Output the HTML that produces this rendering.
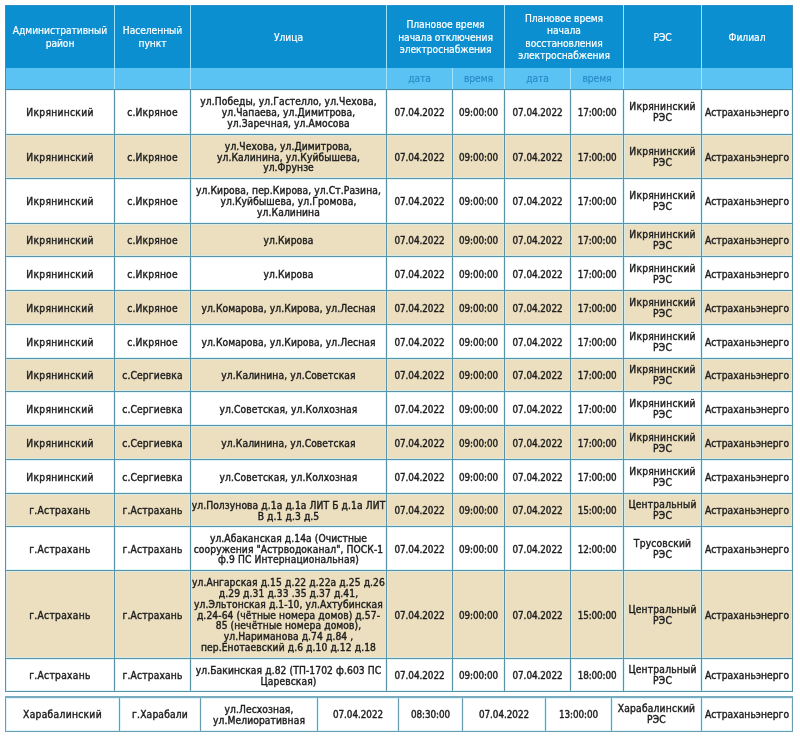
<!DOCTYPE html>
<html lang="ru"><head><meta charset="utf-8"><title>Плановые отключения электроснабжения</title>
<style>
html,body{margin:0;padding:0;background:#fff;}
body{width:800px;height:740px;overflow:hidden;position:relative;font-family:"Liberation Sans",sans-serif;}
table{border-collapse:collapse;table-layout:fixed;position:absolute;left:5px;}
.t1{top:5px;width:788px;}
th,td{white-space:nowrap;padding:0;text-align:center;vertical-align:middle;overflow:hidden;}
.t1 th{background:#0c8fd1;color:#fff;font-family:"DejaVu Sans Condensed","Liberation Sans",sans-serif;font-weight:400;font-size:10.2px;letter-spacing:-.05px;-webkit-text-stroke:.2px #fff;line-height:12.5px;border:1px solid #9fe2fa;}
.t1 tr.h1{height:62px;}
.t1 tr.h1 th{border-top-color:#2b93c9;border-bottom:0;padding-top:2px;}
.t1 tr.h2{height:22px;}
.t1 tr.h2 th{background:#5bc3f4;color:#2a8bc8;-webkit-text-stroke:.2px #2a8bc8;padding-top:2px;border-top:0;border-bottom:1px solid #4f8ea8;}
.t1 th:first-child{border-left-color:#3b8fb8;}
.t1 th:last-child{border-right-color:#3b8fb8;}
td{border:1px solid #5a93a8;box-shadow:inset 0 0 0 1px rgba(205,240,250,.65);color:#1e1e1e;font-family:"DejaVu Sans Condensed","Liberation Sans",sans-serif;font-weight:400;font-size:10.2px;line-height:10.8px;padding-top:3px;-webkit-text-stroke:.4px #1e1e1e;}
tr.odd td{background:#ecdfc0;}
.t2{top:696px;width:788px;}
.t2 tr{height:34px;}
.t2 td{border:1px solid #6a9db1;border-top:2px solid #79abc0;}
td.c1{letter-spacing:.3px;}
td.c2{letter-spacing:.17px;}
td.c3{letter-spacing:.1px;}
td.c4,td.c6{font-size:9.8px;letter-spacing:-.04px;}
td.c5,td.c7{font-size:9.8px;letter-spacing:-.1px;}
td.c8{letter-spacing:.2px;padding-top:2px;}
td.c9{letter-spacing:.05px;}
</style></head>
<body>
<table class="t1">
<colgroup><col style="width:109px"><col style="width:76px"><col style="width:196px"><col style="width:66px"><col style="width:52px"><col style="width:66px"><col style="width:53px"><col style="width:78px"><col style="width:91px"></colgroup>
<thead>
<tr class="h1"><th>Административный<br>район</th><th>Населенный<br>пункт</th><th>Улица</th><th colspan="2">Плановое время<br>начала отключения<br>электроснабжения</th><th colspan="2">Плановое время<br>начала<br>восстановления<br>электроснабжения</th><th>РЭС</th><th>Филиал</th></tr>
<tr class="h2"><th></th><th></th><th></th><th>дата</th><th>время</th><th>дата</th><th>время</th><th></th><th></th></tr>
</thead>
<tbody>
<tr class="even" style="height:45px"><td class="c1"><div>Икрянинский</div></td><td class="c2"><div>с.Икряное</div></td><td class="c3"><div>ул.Победы, ул.Гастелло, ул.Чехова,<br>ул.Чапаева, ул.Димитрова,<br>ул.Заречная, ул.Амосова</div></td><td class="c4"><div>07.04.2022</div></td><td class="c5"><div>09:00:00</div></td><td class="c6"><div>07.04.2022</div></td><td class="c7"><div>17:00:00</div></td><td class="c8"><div>Икрянинский<br>РЭС</div></td><td class="c9"><div>Астраханьэнерго</div></td></tr>
<tr class="odd" style="height:44px"><td class="c1"><div>Икрянинский</div></td><td class="c2"><div>с.Икряное</div></td><td class="c3"><div>ул.Чехова, ул.Димитрова,<br>ул.Калинина, ул.Куйбышева,<br>ул.Фрунзе</div></td><td class="c4"><div>07.04.2022</div></td><td class="c5"><div>09:00:00</div></td><td class="c6"><div>07.04.2022</div></td><td class="c7"><div>17:00:00</div></td><td class="c8"><div>Икрянинский<br>РЭС</div></td><td class="c9"><div>Астраханьэнерго</div></td></tr>
<tr class="even" style="height:45px"><td class="c1"><div>Икрянинский</div></td><td class="c2"><div>с.Икряное</div></td><td class="c3"><div>ул.Кирова, пер.Кирова, ул.Ст.Разина,<br>ул.Куйбышева, ул.Громова,<br>ул.Калинина</div></td><td class="c4"><div>07.04.2022</div></td><td class="c5"><div>09:00:00</div></td><td class="c6"><div>07.04.2022</div></td><td class="c7"><div>17:00:00</div></td><td class="c8"><div>Икрянинский<br>РЭС</div></td><td class="c9"><div>Астраханьэнерго</div></td></tr>
<tr class="odd" style="height:33px"><td class="c1"><div>Икрянинский</div></td><td class="c2"><div>с.Икряное</div></td><td class="c3"><div>ул.Кирова</div></td><td class="c4"><div>07.04.2022</div></td><td class="c5"><div>09:00:00</div></td><td class="c6"><div>07.04.2022</div></td><td class="c7"><div>17:00:00</div></td><td class="c8"><div>Икрянинский<br>РЭС</div></td><td class="c9"><div>Астраханьэнерго</div></td></tr>
<tr class="even" style="height:34px"><td class="c1"><div>Икрянинский</div></td><td class="c2"><div>с.Икряное</div></td><td class="c3"><div>ул.Кирова</div></td><td class="c4"><div>07.04.2022</div></td><td class="c5"><div>09:00:00</div></td><td class="c6"><div>07.04.2022</div></td><td class="c7"><div>17:00:00</div></td><td class="c8"><div>Икрянинский<br>РЭС</div></td><td class="c9"><div>Астраханьэнерго</div></td></tr>
<tr class="odd" style="height:34px"><td class="c1"><div>Икрянинский</div></td><td class="c2"><div>с.Икряное</div></td><td class="c3"><div>ул.Комарова, ул.Кирова, ул.Лесная</div></td><td class="c4"><div>07.04.2022</div></td><td class="c5"><div>09:00:00</div></td><td class="c6"><div>07.04.2022</div></td><td class="c7"><div>17:00:00</div></td><td class="c8"><div>Икрянинский<br>РЭС</div></td><td class="c9"><div>Астраханьэнерго</div></td></tr>
<tr class="even" style="height:34px"><td class="c1"><div>Икрянинский</div></td><td class="c2"><div>с.Икряное</div></td><td class="c3"><div>ул.Комарова, ул.Кирова, ул.Лесная</div></td><td class="c4"><div>07.04.2022</div></td><td class="c5"><div>09:00:00</div></td><td class="c6"><div>07.04.2022</div></td><td class="c7"><div>17:00:00</div></td><td class="c8"><div>Икрянинский<br>РЭС</div></td><td class="c9"><div>Астраханьэнерго</div></td></tr>
<tr class="odd" style="height:33px"><td class="c1"><div>Икрянинский</div></td><td class="c2"><div>с.Сергиевка</div></td><td class="c3"><div>ул.Калинина, ул.Советская</div></td><td class="c4"><div>07.04.2022</div></td><td class="c5"><div>09:00:00</div></td><td class="c6"><div>07.04.2022</div></td><td class="c7"><div>17:00:00</div></td><td class="c8"><div>Икрянинский<br>РЭС</div></td><td class="c9"><div>Астраханьэнерго</div></td></tr>
<tr class="even" style="height:34px"><td class="c1"><div>Икрянинский</div></td><td class="c2"><div>с.Сергиевка</div></td><td class="c3"><div>ул.Советская, ул.Колхозная</div></td><td class="c4"><div>07.04.2022</div></td><td class="c5"><div>09:00:00</div></td><td class="c6"><div>07.04.2022</div></td><td class="c7"><div>17:00:00</div></td><td class="c8"><div>Икрянинский<br>РЭС</div></td><td class="c9"><div>Астраханьэнерго</div></td></tr>
<tr class="odd" style="height:34px"><td class="c1"><div>Икрянинский</div></td><td class="c2"><div>с.Сергиевка</div></td><td class="c3"><div>ул.Калинина, ул.Советская</div></td><td class="c4"><div>07.04.2022</div></td><td class="c5"><div>09:00:00</div></td><td class="c6"><div>07.04.2022</div></td><td class="c7"><div>17:00:00</div></td><td class="c8"><div>Икрянинский<br>РЭС</div></td><td class="c9"><div>Астраханьэнерго</div></td></tr>
<tr class="even" style="height:34px"><td class="c1"><div>Икрянинский</div></td><td class="c2"><div>с.Сергиевка</div></td><td class="c3"><div>ул.Советская, ул.Колхозная</div></td><td class="c4"><div>07.04.2022</div></td><td class="c5"><div>09:00:00</div></td><td class="c6"><div>07.04.2022</div></td><td class="c7"><div>17:00:00</div></td><td class="c8"><div>Икрянинский<br>РЭС</div></td><td class="c9"><div>Астраханьэнерго</div></td></tr>
<tr class="odd" style="height:33px"><td class="c1"><div>г.Астрахань</div></td><td class="c2"><div>г.Астрахань</div></td><td class="c3"><div>ул.Ползунова д.1а д.1а ЛИТ Б д.1а ЛИТ<br>В д.1 д.3 д.5</div></td><td class="c4"><div>07.04.2022</div></td><td class="c5"><div>09:00:00</div></td><td class="c6"><div>07.04.2022</div></td><td class="c7"><div>15:00:00</div></td><td class="c8"><div>Центральный<br>РЭС</div></td><td class="c9"><div>Астраханьэнерго</div></td></tr>
<tr class="even" style="height:44px"><td class="c1"><div>г.Астрахань</div></td><td class="c2"><div>г.Астрахань</div></td><td class="c3"><div>ул.Абаканская д.14а (Очистные<br>сооружения "Астрводоканал", ПОСК-1<br>ф.9 ПС Интернациональная)</div></td><td class="c4"><div>07.04.2022</div></td><td class="c5"><div>09:00:00</div></td><td class="c6"><div>07.04.2022</div></td><td class="c7"><div>12:00:00</div></td><td class="c8"><div>Трусовский<br>РЭС</div></td><td class="c9"><div>Астраханьэнерго</div></td></tr>
<tr class="odd" style="height:88px"><td class="c1"><div>г.Астрахань</div></td><td class="c2"><div>г.Астрахань</div></td><td class="c3"><div>ул.Ангарская д.15 д.22 д.22а д.25 д.26<br>д.29 д.31 д.33 .35 д.37 д.41,<br>ул.Эльтонская д.1-10, ул.Ахтубинская<br>д.24-64 (чётные номера домов) д.57-<br>85 (нечётные номера домов),<br>ул.Нариманова д.74 д.84 ,<br>пер.Енотаевский д.6 д.10 д.12 д.18</div></td><td class="c4"><div>07.04.2022</div></td><td class="c5"><div>09:00:00</div></td><td class="c6"><div>07.04.2022</div></td><td class="c7"><div>15:00:00</div></td><td class="c8"><div>Центральный<br>РЭС</div></td><td class="c9"><div>Астраханьэнерго</div></td></tr>
<tr class="even" style="height:33px"><td class="c1"><div>г.Астрахань</div></td><td class="c2"><div>г.Астрахань</div></td><td class="c3"><div>ул.Бакинская д.82 (ТП-1702 ф.603 ПС<br>Царевская)</div></td><td class="c4"><div>07.04.2022</div></td><td class="c5"><div>09:00:00</div></td><td class="c6"><div>07.04.2022</div></td><td class="c7"><div>18:00:00</div></td><td class="c8"><div>Центральный<br>РЭС</div></td><td class="c9"><div>Астраханьэнерго</div></td></tr>
</tbody></table>
<table class="t2">
<colgroup><col style="width:114px"><col style="width:81px"><col style="width:117px"><col style="width:81px"><col style="width:64px"><col style="width:83px"><col style="width:66px"><col style="width:90px"><col style="width:91px"></colgroup>
<tbody><tr><td class="c1"><div>Харабалинский</div></td><td class="c2"><div>г.Харабали</div></td><td class="c3"><div>ул.Лесхозная,<br>ул.Мелиоративная</div></td><td class="c4"><div>07.04.2022</div></td><td class="c5"><div>08:30:00</div></td><td class="c6"><div>07.04.2022</div></td><td class="c7"><div>13:00:00</div></td><td class="c8"><div>Харабалинский<br>РЭС</div></td><td class="c9"><div>Астраханьэнерго</div></td></tr></tbody></table>
</body></html>
